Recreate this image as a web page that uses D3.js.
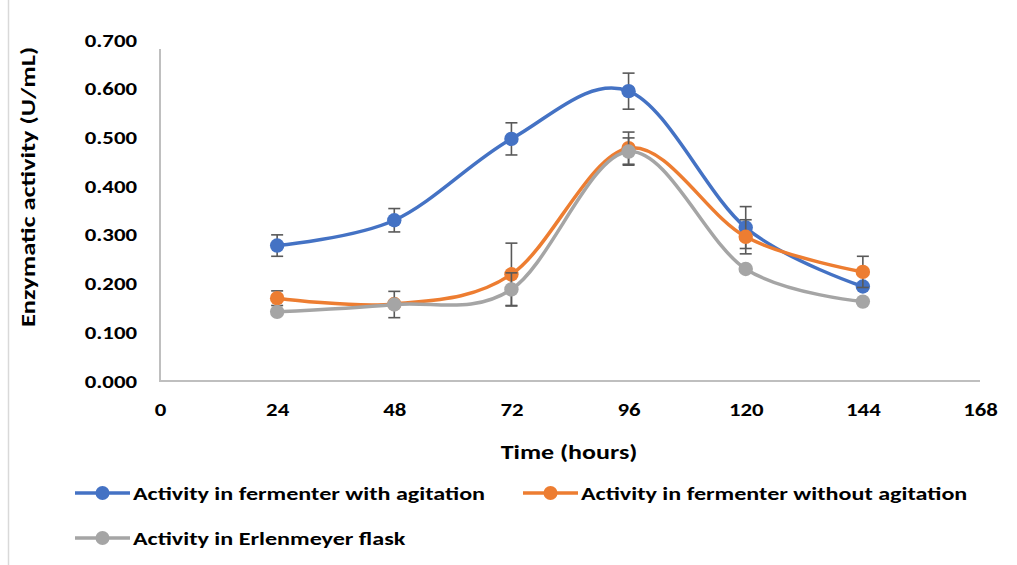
<!DOCTYPE html>
<html>
<head>
<meta charset="utf-8">
<script src="https://cdn.jsdelivr.net/npm/d3@7"></script>
<style>
  html, body { margin: 0; padding: 0; background: #fff; }
  svg text { font-family: Carlito, Calibri, Lato, "Liberation Sans", sans-serif; font-weight: bold; fill: #000; }
</style>
</head>
<body>
<svg id="chart" width="1017" height="565"></svg>
<script>
// Sampling times (hours)
const hours = [24, 48, 72, 96, 120, 144];
const xTicks = [0, 24, 48, 72, 96, 120, 144, 168];
const yTicks = [0, 0.1, 0.2, 0.3, 0.4, 0.5, 0.6, 0.7];

// Enzymatic activity (U/mL) and standard deviations
const withAgitation     = [0.278, 0.330, 0.497, 0.595, 0.315, 0.194];
const withAgitationSd   = [0.022, 0.024, 0.033, 0.037, 0.043, 0.000];
const withoutAgitation   = [0.170, 0.158, 0.219, 0.478, 0.296, 0.224];
const withoutAgitationSd = [0.015, 0.000, 0.064, 0.033, 0.035, 0.032];
const erlenmeyer   = [0.142, 0.157, 0.188, 0.471, 0.230, 0.163];
const erlenmeyerSd = [0.000, 0.027, 0.034, 0.028, 0.000, 0.000];

const seriesNames = [
  "Activity in fermenter with agitation",
  "Activity in fermenter without agitation",
  "Activity in Erlenmeyer flask"
];
const seriesColors = ["#4472C4", "#ED7D31", "#A5A5A5"];

const series = [
  { name: seriesNames[0], color: seriesColors[0], values: withAgitation, sd: withAgitationSd },
  { name: seriesNames[1], color: seriesColors[1], values: withoutAgitation, sd: withoutAgitationSd },
  { name: seriesNames[2], color: seriesColors[2], values: erlenmeyer, sd: erlenmeyerSd }
];

const svg = d3.select("#chart");
const plot = { left: 160, right: 980, top: 40, bottom: 381 };

const x = d3.scaleLinear().domain([0, 168]).range([plot.left, plot.right]);
const y = d3.scaleLinear().domain([0, 0.7]).range([plot.bottom, plot.top]);

// Widen glyphs horizontally (the chart's labels use a broad bold face)
function widen(sel, sx) {
  sel.each(function () {
    const t = d3.select(this);
    const x0 = +t.attr("x") || 0;
    t.attr("x", x0 / sx).attr("transform", `scale(${sx},1)`);
  });
}

// Chart-area border on the left edge
svg.append("line")
  .attr("x1", 8.5).attr("x2", 8.5).attr("y1", 0).attr("y2", 565)
  .attr("stroke", "#d9d9d9").attr("stroke-width", 1.5);

// Axis lines
svg.append("path")
  .attr("d", `M${plot.left},${y(0.7) + 9}V${y(0)}H${x(168)}`)
  .attr("fill", "none").attr("stroke", "#bfbfbf").attr("stroke-width", 2);

// Y axis labels
const yAxis = d3.axisLeft(y).tickValues(yTicks).tickFormat(d3.format(".3f")).tickSize(0).tickPadding(23);
svg.append("g").attr("transform", `translate(${plot.left},0)`).call(yAxis)
  .call(g => g.select(".domain").remove())
  .call(g => g.selectAll("text").attr("font-size", 19).attr("font-family", null).attr("fill", "#000").call(widen, 1.2));

// X axis labels
const xAxis = d3.axisBottom(x).tickValues(xTicks).tickSize(0).tickPadding(22);
svg.append("g").attr("transform", `translate(0,${plot.bottom})`).call(xAxis)
  .call(g => g.select(".domain").remove())
  .call(g => g.selectAll("text").attr("font-size", 19).attr("font-family", null).attr("fill", "#000").call(widen, 1.2));

// Axis titles
svg.append("text")
  .attr("transform", `translate(35,187) rotate(-90) scale(1.32,1)`)
  .attr("text-anchor", "middle").attr("font-size", 20)
  .text("Enzymatic activity (U/mL)");

svg.append("text")
  .attr("transform", `translate(569,459) scale(1.3,1)`)
  .attr("text-anchor", "middle").attr("font-size", 20)
  .text("Time (hours)");

// Smoothed series lines
const line = d3.line()
  .x(d => x(d.t)).y(d => y(d.v))
  .curve(d3.curveCardinal.tension(0));

series.forEach(s => {
  const pts = hours.map((t, i) => ({ t, v: s.values[i], sd: s.sd[i] }));
  const g = svg.append("g");

  g.append("path").datum(pts)
    .attr("d", line)
    .attr("fill", "none").attr("stroke", s.color).attr("stroke-width", 3.5)
    .attr("stroke-linecap", "round");

  // Error bars
  const eb = g.selectAll(".eb").data(pts.filter(d => d.sd > 0)).join("g");
  eb.append("line")
    .attr("x1", d => x(d.t)).attr("x2", d => x(d.t))
    .attr("y1", d => y(d.v + d.sd)).attr("y2", d => y(d.v - d.sd))
    .attr("stroke", "#595959").attr("stroke-width", 1.6);
  [1, -1].forEach(sign => {
    eb.append("line")
      .attr("x1", d => x(d.t) - 6).attr("x2", d => x(d.t) + 6)
      .attr("y1", d => y(d.v + sign * d.sd)).attr("y2", d => y(d.v + sign * d.sd))
      .attr("stroke", "#595959").attr("stroke-width", 1.6);
  });

  g.selectAll("circle").data(pts).join("circle")
    .attr("cx", d => x(d.t)).attr("cy", d => y(d.v)).attr("r", 7.2)
    .attr("fill", s.color);
});

// Legend
const legendItems = [
  { s: series[0], lx: 75, ly: 493 },
  { s: series[1], lx: 523, ly: 493 },
  { s: series[2], lx: 75, ly: 538 }
];
const lg = svg.append("g").selectAll("g").data(legendItems).join("g")
  .attr("transform", d => `translate(${d.lx},${d.ly})`);
lg.append("line").attr("x1", 0).attr("x2", 55).attr("y1", 0).attr("y2", 0)
  .attr("stroke", d => d.s.color).attr("stroke-width", 3.5);
lg.append("circle").attr("cx", 27.5).attr("cy", 0).attr("r", 7).attr("fill", d => d.s.color);
lg.append("text").attr("x", 58).attr("y", 0).attr("dy", "0.35em")
  .attr("font-size", 19).text(d => d.s.name)
  .call(widen, 1.27);
</script>
</body>
</html>
